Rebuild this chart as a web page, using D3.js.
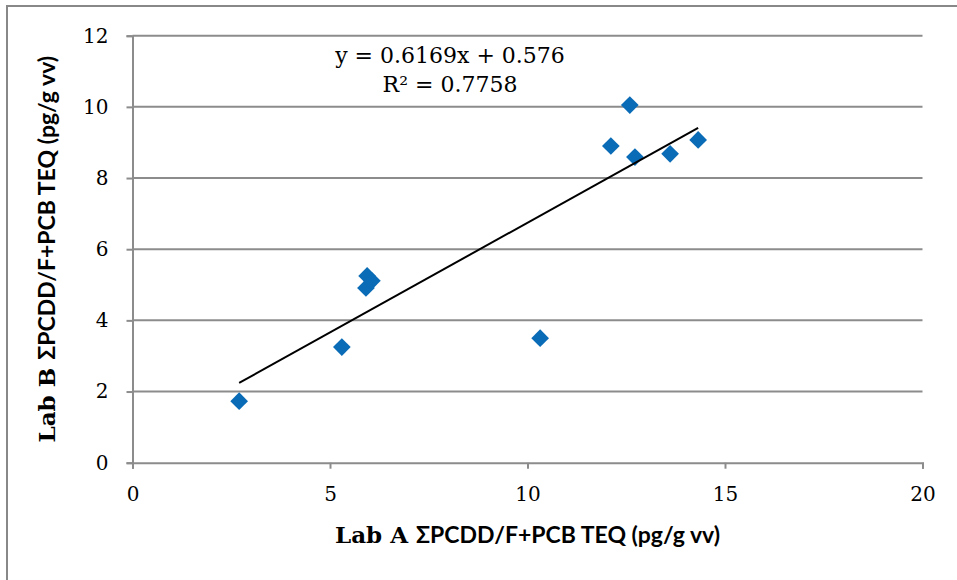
<!DOCTYPE html>
<html>
<head>
<meta charset="utf-8">
<script src="https://cdn.jsdelivr.net/npm/d3@7"></script>
<style>
body { margin: 0; background: #fff; }
</style>
</head>
<body>
<svg id="myGraph"></svg>
<script>
var width = 957;
var height = 580;

// Lab A values (x) and Lab B values (y)
var labA = [2.70, 5.30, 5.91, 5.94, 6.06, 10.32, 12.11, 12.59, 12.72, 13.61, 14.32];
var labB = [1.73, 3.25, 4.91, 5.25, 5.11, 3.50, 8.90, 10.05, 8.59, 8.68, 9.07];
var xTicks = [0, 5, 10, 15, 20];
var yTicks = [0, 2, 4, 6, 8, 10, 12];
var slope = 0.6169;
var intercept = 0.576;
var eqText = ["y = 0.6169x + 0.576", "R² = 0.7758"];

var svg = d3.select("#myGraph")
                .attr("width", width)
                .attr("height", height);

var x = d3.scaleLinear().domain([0, 20]).range([132.5, 922.5]);
var y = d3.scaleLinear().domain([0, 12]).range([462.7, 35.7]);

// chart border
svg.append("rect")
    .attr("x", 7).attr("y", 6)
    .attr("width", 980).attr("height", 600)
    .attr("fill", "none")
    .attr("stroke", "#888")
    .attr("stroke-width", 2);

// gridlines
svg.selectAll(".grid")
    .data(yTicks.filter(function(d){ return d > 0; }))
    .enter().append("line")
    .attr("x1", x(0)).attr("x2", x(20))
    .attr("y1", function(d){ return y(d); })
    .attr("y2", function(d){ return y(d); })
    .attr("stroke", "#8c8c8c")
    .attr("stroke-width", 2);

var xAxis = svg.append("g")
    .attr("transform", "translate(0," + y(0) + ")")
    .call(d3.axisBottom(x).tickValues(xTicks).tickSize(6).tickPadding(18));
var yAxis = svg.append("g")
    .attr("transform", "translate(" + x(0) + ",0)")
    .call(d3.axisLeft(y).tickValues(yTicks).tickSize(6).tickPadding(18));

[xAxis, yAxis].forEach(function(g){
    g.select(".domain").attr("stroke", "#8c8c8c").attr("stroke-width", 2);
    g.selectAll(".tick line").attr("stroke", "#8c8c8c").attr("stroke-width", 2);
    g.selectAll(".tick text")
        .attr("fill", "#000")
        .style("font-family", "'DejaVu Serif', serif")
        .style("font-size", "20px");
});

// points
var pts = labA.map(function(d, i){ return [d, labB[i]]; });
svg.selectAll(".pt")
    .data(pts)
    .enter().append("path")
    .attr("d", d3.symbol().type(d3.symbolDiamond2).size(200))
    .attr("transform", function(d){ return "translate(" + x(d[0]) + "," + y(d[1]) + ")"; })
    .attr("fill", "#0a6cb6");

// trend line
var x0 = d3.min(labA), x1 = d3.max(labA);
svg.append("line")
    .attr("x1", x(x0)).attr("y1", y(slope * x0 + intercept))
    .attr("x2", x(x1)).attr("y2", y(slope * x1 + intercept))
    .attr("stroke", "#000")
    .attr("stroke-width", 2);

// equation
svg.selectAll(".eq")
    .data(eqText)
    .enter().append("text")
    .attr("x", 450)
    .attr("y", function(d, i){ return 63 + i * 29; })
    .attr("text-anchor", "middle")
    .style("font-family", "'DejaVu Serif', serif")
    .style("font-size", "22px")
    .text(function(d){ return d; });

// axis titles
var xt = svg.append("text")
    .attr("x", 527.5).attr("y", 543)
    .attr("text-anchor", "middle")
    .style("font-weight", "bold");
xt.append("tspan").style("font-family", "'DejaVu Serif', serif").style("font-size", "23px").text("Lab A ");
xt.append("tspan").style("font-family", "Lato, sans-serif").style("font-size", "23px").text("ΣPCDD/F+PCB TEQ (pg/g vv)");

var yt = svg.append("text")
    .attr("transform", "translate(55," + ((y(0) + y(12)) / 2) + ") rotate(-90)")
    .attr("text-anchor", "middle")
    .style("font-weight", "bold");
yt.append("tspan").style("font-family", "'DejaVu Serif', serif").style("font-size", "23px").text("Lab B ");
yt.append("tspan").style("font-family", "Lato, sans-serif").style("font-size", "23px").text("ΣPCDD/F+PCB TEQ (pg/g vv)");
</script>
</body>
</html>
